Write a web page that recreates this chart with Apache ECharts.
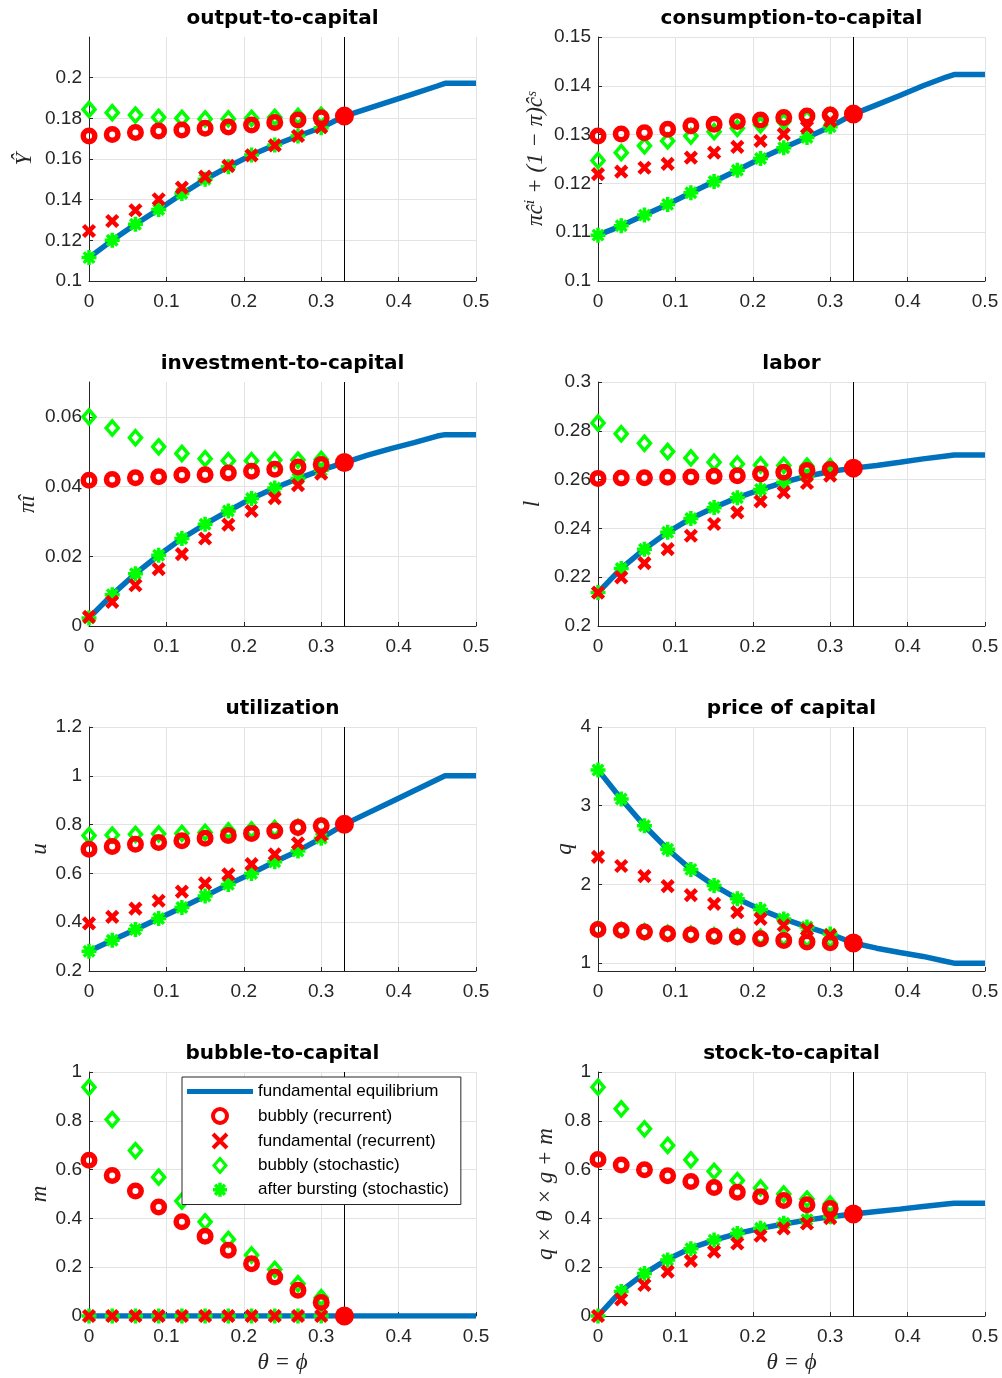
<!DOCTYPE html>
<html>
<head>
<meta charset="utf-8">
<title>bubbly vs fundamental equilibria</title>
<script src="https://cdn.jsdelivr.net/npm/echarts/dist/echarts.min.js"></script>
<style>
    html, body { margin: 0; padding: 0; background: #fff; }
    #main { width: 1002px; height: 1378px; }
</style>
</head>
<body>
<div id="main"></div>
<script>
// x grid of the marker series (theta = phi)
var gridX = [0, 0.03, 0.06, 0.09, 0.12, 0.15, 0.18, 0.21, 0.24, 0.27, 0.30];
// x grid of the fundamental equilibrium curve
var fundX = [0, 0.03, 0.06, 0.09, 0.12, 0.15, 0.18, 0.21, 0.24, 0.27, 0.30, 0.33, 0.36, 0.39, 0.42, 0.45, 0.46, 0.5];
var cutoff = 0.33;

var titles = ['output-to-capital', 'consumption-to-capital', 'investment-to-capital', 'labor',
    'utilization', 'price of capital', 'bubble-to-capital', 'stock-to-capital'];
var yNames = ['Ŷ', 'πĉⁱ + (1 − π)ĉˢ', 'πî', 'l', 'u', 'q', 'm', 'q × θ × g + m'];
var xName = 'θ = ϕ';

var xTicks = [0, 0.1, 0.2, 0.3, 0.4, 0.5];
var yTicks = [
    [0.1, 0.12, 0.14, 0.16, 0.18, 0.2],
    [0.1, 0.11, 0.12, 0.13, 0.14, 0.15],
    [0, 0.02, 0.04, 0.06],
    [0.2, 0.22, 0.24, 0.26, 0.28, 0.3],
    [0.2, 0.4, 0.6, 0.8, 1, 1.2],
    [1, 2, 3, 4],
    [0, 0.2, 0.4, 0.6, 0.8, 1],
    [0, 0.2, 0.4, 0.6, 0.8, 1]
];
var yRange = [[0.1, 0.22], [0.1, 0.15], [0, 0.07], [0.2, 0.3], [0.2, 1.2], [0.9, 4], [0, 1], [0, 1]];

// fundamental equilibrium (on fundX)
var fundEq = [
    [0.1115, 0.1200, 0.1279, 0.1352, 0.1428, 0.1500, 0.1562, 0.1620, 0.1669, 0.1713, 0.1754, 0.1811, 0.1848, 0.1885, 0.1922, 0.1959, 0.1972, 0.1972],
    [0.1094, 0.1113, 0.1135, 0.1157, 0.1181, 0.1204, 0.1227, 0.1251, 0.1273, 0.1294, 0.1316, 0.1342, 0.1361, 0.1380, 0.1400, 0.1418, 0.1423, 0.1423],
    [0.0023, 0.0090, 0.0150, 0.0203, 0.0251, 0.0292, 0.0330, 0.0366, 0.0396, 0.0423, 0.0447, 0.0469, 0.0490, 0.0509, 0.0526, 0.0545, 0.0549, 0.0549],
    [0.2137, 0.2236, 0.2315, 0.2384, 0.2441, 0.2486, 0.2526, 0.2559, 0.2589, 0.2614, 0.2633, 0.2647, 0.2658, 0.2671, 0.2685, 0.2697, 0.2701, 0.2701],
    [0.281, 0.326, 0.370, 0.415, 0.460, 0.507, 0.555, 0.600, 0.648, 0.692, 0.744, 0.801, 0.847, 0.893, 0.939, 0.985, 1.0, 1.0],
    [3.455, 3.085, 2.745, 2.447, 2.191, 1.987, 1.817, 1.681, 1.562, 1.460, 1.370, 1.255, 1.190, 1.135, 1.085, 1.020, 1.0, 1.0],
    [0, 0, 0, 0, 0, 0, 0, 0, 0, 0, 0, 0, 0, 0, 0, 0, 0, 0],
    [0, 0.103, 0.174, 0.233, 0.278, 0.311, 0.338, 0.359, 0.377, 0.393, 0.407, 0.418, 0.428, 0.438, 0.449, 0.459, 0.462, 0.462]
];
// bubbly (recurrent), on gridX
var bubblyRec = [
    [0.1713, 0.1721, 0.1730, 0.1738, 0.1743, 0.1751, 0.1757, 0.1767, 0.1779, 0.1792, 0.1803],
    [0.1297, 0.1301, 0.1304, 0.1311, 0.1318, 0.1321, 0.1327, 0.1330, 0.1335, 0.1338, 0.1340],
    [0.0418, 0.0420, 0.0425, 0.0428, 0.0433, 0.0434, 0.0439, 0.0444, 0.0450, 0.0456, 0.0463],
    [0.2605, 0.2607, 0.2608, 0.2610, 0.2611, 0.2614, 0.2616, 0.2623, 0.2630, 0.2637, 0.2641],
    [0.699, 0.710, 0.719, 0.727, 0.734, 0.744, 0.755, 0.764, 0.774, 0.788, 0.795],
    [1.426, 1.417, 1.396, 1.374, 1.362, 1.340, 1.332, 1.311, 1.289, 1.268, 1.258],
    [0.638, 0.576, 0.512, 0.447, 0.386, 0.327, 0.269, 0.214, 0.160, 0.106, 0.055],
    [0.641, 0.619, 0.599, 0.575, 0.551, 0.527, 0.507, 0.489, 0.473, 0.456, 0.441]
];
// fundamental (recurrent)
var fundRec = [
    [0.1246, 0.1295, 0.1348, 0.1402, 0.1459, 0.1513, 0.1566, 0.1618, 0.1667, 0.1713, 0.1757],
    [0.1219, 0.1224, 0.1232, 0.1240, 0.1253, 0.1263, 0.1275, 0.1287, 0.1301, 0.1315, 0.1328],
    [0.0026, 0.0069, 0.0117, 0.0163, 0.0206, 0.0251, 0.0291, 0.0330, 0.0367, 0.0404, 0.0437],
    [0.2137, 0.2199, 0.2258, 0.2315, 0.2370, 0.2418, 0.2466, 0.2511, 0.2548, 0.2586, 0.2616],
    [0.395, 0.422, 0.456, 0.488, 0.525, 0.559, 0.596, 0.638, 0.678, 0.723, 0.758],
    [2.349, 2.234, 2.106, 1.979, 1.864, 1.753, 1.647, 1.562, 1.481, 1.426, 1.353],
    [0, 0, 0, 0, 0, 0, 0, 0, 0, 0, 0],
    [0, 0.068, 0.127, 0.182, 0.226, 0.264, 0.297, 0.329, 0.359, 0.379, 0.401]
];
// bubbly (stochastic)
var bubblySto = [
    [0.1844, 0.1828, 0.1816, 0.1805, 0.1800, 0.1797, 0.1797, 0.1800, 0.1805, 0.1810, 0.1815],
    [0.1247, 0.1263, 0.1277, 0.1287, 0.1297, 0.1306, 0.1313, 0.1320, 0.1327, 0.1333, 0.1340],
    [0.0600, 0.0568, 0.0540, 0.0514, 0.0495, 0.0480, 0.0474, 0.0474, 0.0476, 0.0476, 0.0478],
    [0.2832, 0.2788, 0.2749, 0.2715, 0.2689, 0.2671, 0.2664, 0.2660, 0.2658, 0.2655, 0.2653],
    [0.755, 0.757, 0.760, 0.762, 0.764, 0.768, 0.774, 0.778, 0.784, 0.789, 0.795],
    [1.43, 1.42, 1.40, 1.38, 1.37, 1.35, 1.34, 1.33, 1.32, 1.31, 1.30],
    [0.937, 0.805, 0.678, 0.569, 0.471, 0.386, 0.314, 0.250, 0.191, 0.132, 0.075],
    [0.938, 0.849, 0.767, 0.699, 0.640, 0.593, 0.555, 0.525, 0.500, 0.479, 0.459]
];
// after bursting (stochastic)
var afterBurst = [
    [0.1115, 0.1200, 0.1279, 0.1352, 0.1430, 0.1500, 0.1562, 0.1620, 0.1669, 0.1713, 0.1754],
    [0.1094, 0.1113, 0.1135, 0.1157, 0.1181, 0.1204, 0.1227, 0.1251, 0.1273, 0.1294, 0.1316],
    [0.0023, 0.0090, 0.0150, 0.0203, 0.0251, 0.0292, 0.0330, 0.0366, 0.0396, 0.0423, 0.0447],
    [0.2137, 0.2236, 0.2315, 0.2384, 0.2441, 0.2486, 0.2526, 0.2559, 0.2589, 0.2614, 0.2633],
    [0.281, 0.326, 0.370, 0.415, 0.460, 0.507, 0.555, 0.600, 0.648, 0.692, 0.744],
    [3.455, 3.085, 2.745, 2.447, 2.191, 1.987, 1.817, 1.681, 1.562, 1.460, 1.370],
    [0, 0, 0, 0, 0, 0, 0, 0, 0, 0, 0],
    [0, 0.100, 0.174, 0.230, 0.276, 0.311, 0.338, 0.360, 0.380, 0.395, 0.407]
];
// filled point at the cutoff
var endPt = [0.1811, 0.1342, 0.0469, 0.2647, 0.801, 1.255, 0, 0.418];

(function () {
    var chart = echarts.init(document.getElementById('main'));

    var colLeft = [89, 598];
    var rowTop = [37, 382, 727, 1072];
    var plotW = 387, plotH = 244;
    var yNameGap = [53, 51, 50, 54, 38, 22, 38, 41];

    var X_PATH = 'path://M0,0L10,10M0,10L10,0';
    var STAR_PATH = 'path://M5,0L5,10M0,5L10,5M1.5,1.5L8.5,8.5M8.5,1.5L1.5,8.5';
    var DIAMOND_PATH = 'path://M6,0L12,7L6,14L0,7Z';
    var mathFont = {fontFamily: 'Liberation Serif, DejaVu Serif', fontStyle: 'italic', fontSize: 23, color: '#262626'};

    function pairs(xs, ys) {
        var out = [];
        for (var k = 0; k < ys.length; k++) {
            out.push([xs[k], ys[k]]);
        }
        return out;
    }
    function fmt(v) {
        return String(+(+v).toFixed(4));
    }

    var grids = [], xAxes = [], yAxes = [], titleList = [], seriesList = [];
    for (var i = 0; i < 8; i++) {
        var gx = colLeft[i % 2], gy = rowTop[Math.floor(i / 2)];
        grids.push({left: gx, top: gy, width: plotW, height: plotH});
        titleList.push({
            text: titles[i],
            left: gx + plotW / 2,
            top: gy - 28,
            textAlign: 'center',
            padding: 0,
            textStyle: {fontFamily: 'DejaVu Sans', fontWeight: 'bold', fontSize: 20, color: '#000'}
        });
        xAxes.push({
            type: 'value',
            gridIndex: i,
            min: 0,
            max: 0.5,
            name: i >= 6 ? xName : '',
            nameLocation: 'middle',
            nameGap: 35,
            nameTextStyle: mathFont,
            axisLine: {onZero: false, lineStyle: {color: '#262626', width: 1}},
            axisTick: {show: true, inside: true, length: 4, customValues: xTicks.slice(), lineStyle: {color: '#262626'}},
            axisLabel: {customValues: xTicks.slice(), formatter: fmt, margin: 11, fontFamily: 'Liberation Sans', fontSize: 19, color: '#262626'},
            splitLine: {show: true, lineStyle: {color: '#e3e3e3', width: 1}}
        });
        yAxes.push({
            type: 'value',
            gridIndex: i,
            min: yRange[i][0],
            max: yRange[i][1],
            name: yNames[i],
            nameLocation: 'middle',
            nameGap: yNameGap[i],
            nameTextStyle: mathFont,
            axisLine: {show: true, onZero: false, lineStyle: {color: '#262626', width: 1}},
            axisTick: {show: true, inside: true, length: 4, customValues: yTicks[i].slice(), lineStyle: {color: '#262626'}},
            axisLabel: {customValues: yTicks[i].slice(), formatter: fmt, margin: 7, fontFamily: 'Liberation Sans', fontSize: 19, color: '#262626'},
            splitLine: {show: true, lineStyle: {color: '#e3e3e3', width: 1}}
        });

        seriesList.push({
            name: 'fundamental equilibrium', type: 'line', xAxisIndex: i, yAxisIndex: i,
            data: pairs(fundX, fundEq[i]), symbol: 'none', showSymbol: false,
            lineStyle: {color: '#0072bd', width: 5.5}, itemStyle: {color: '#0072bd'}, z: 2, silent: true
        });
        seriesList.push({
            name: 'bubbly (stochastic)', type: 'scatter', xAxisIndex: i, yAxisIndex: i,
            data: pairs(gridX, bubblySto[i]), symbol: DIAMOND_PATH, symbolSize: [12, 14],
            itemStyle: {color: 'rgba(0,0,0,0)', borderColor: '#00ff00', borderWidth: 3.5, opacity: 1}, z: 3, silent: true
        });
        seriesList.push({
            name: 'after bursting (stochastic)', type: 'scatter', xAxisIndex: i, yAxisIndex: i,
            data: pairs(gridX, afterBurst[i]), symbol: STAR_PATH, symbolSize: 15,
            itemStyle: {color: '#00ff00', borderColor: '#00ff00', borderWidth: 3.5, opacity: 1}, z: 4, silent: true
        });
        seriesList.push({
            name: 'bubbly (recurrent)', type: 'scatter', xAxisIndex: i, yAxisIndex: i,
            data: pairs(gridX, bubblyRec[i]), symbol: 'circle', symbolSize: 11.5,
            itemStyle: {color: 'rgba(0,0,0,0)', borderColor: '#ff0000', borderWidth: 5.5, opacity: 1}, z: 5, silent: true
        });
        seriesList.push({
            name: 'fundamental (recurrent)', type: 'scatter', xAxisIndex: i, yAxisIndex: i,
            data: pairs(gridX, fundRec[i]), symbol: X_PATH, symbolSize: 11,
            itemStyle: {color: '#ff0000', borderColor: '#ff0000', borderWidth: 4.5, opacity: 1}, z: 6, silent: true
        });
        seriesList.push({
            name: 'cutoff', type: 'scatter', xAxisIndex: i, yAxisIndex: i,
            data: [[cutoff, endPt[i]]], symbol: 'circle', symbolSize: 19,
            itemStyle: {color: '#ff0000', opacity: 1}, z: 7, silent: true,
            markLine: {
                silent: true, symbol: ['none', 'none'], animation: false,
                label: {show: false},
                lineStyle: {color: '#000', width: 1, type: 'solid'},
                data: [{xAxis: cutoff}]
            }
        });
    }

    var option = {
        animation: false,
        backgroundColor: '#fff',
        title: titleList,
        grid: grids,
        xAxis: xAxes,
        yAxis: yAxes,
        legend: {
            left: 182,
            top: 1077,
            orient: 'vertical',
            selectedMode: false,
            z: 20,
            padding: [6, 12, 6, 5],
            itemWidth: 66,
            itemHeight: 14,
            itemGap: 7,
            symbolKeepAspect: true,
            backgroundColor: '#fff',
            borderColor: '#262626',
            borderWidth: 1,
            textStyle: {fontFamily: 'Liberation Sans', fontSize: 17, color: '#000'},
            data: [
                {name: 'fundamental equilibrium', icon: 'path://M0,0L66,0L66,5L0,5Z', itemStyle: {color: '#0072bd'}},
                {name: 'bubbly (recurrent)', itemStyle: {borderWidth: 4}},
                {name: 'fundamental (recurrent)', itemStyle: {borderWidth: 4}},
                {name: 'bubbly (stochastic)', itemStyle: {borderWidth: 3}},
                {name: 'after bursting (stochastic)', itemStyle: {borderWidth: 3.5}}
            ]
        },
        series: seriesList
    };

    chart.setOption(option);
})();
</script>
</body>
</html>
